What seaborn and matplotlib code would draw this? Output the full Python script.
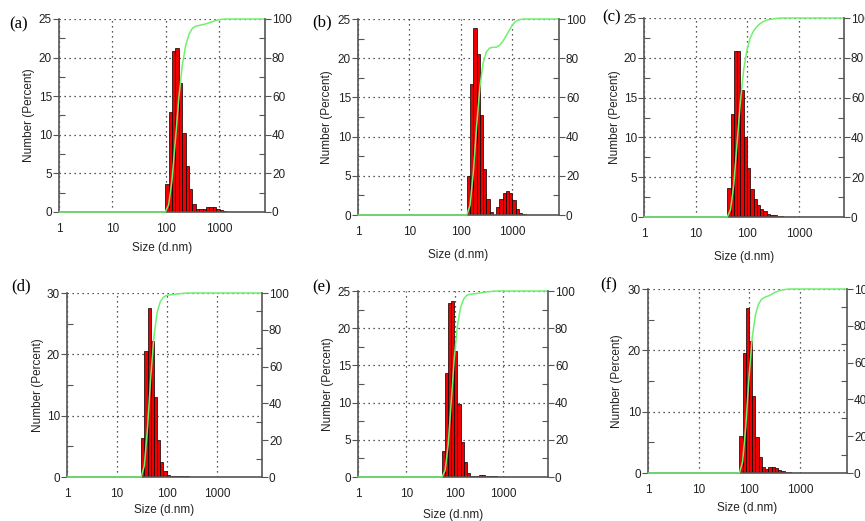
import numpy as np
import pandas as pd
import matplotlib
matplotlib.use('Agg')
import matplotlib.pyplot as plt
import seaborn as sns
from matplotlib.ticker import FixedLocator, MultipleLocator, NullFormatter

# Malvern size classes (d.nm)
size_classes = [0.4, 0.4632, 0.5365, 0.6213, 0.7195, 0.8332, 0.9649, 1.117, 1.294, 1.499,
                1.736, 2.01, 2.328, 2.696, 3.122, 3.615, 4.187, 4.849, 5.615, 6.503,
                7.531, 8.721, 10.1, 11.7, 13.54, 15.69, 18.17, 21.04, 24.36, 28.21,
                32.67, 37.84, 43.82, 50.75, 58.77, 68.06, 78.82, 91.28, 105.7, 122.4,
                141.8, 164.2, 190.1, 220.2, 255.0, 295.3, 342.0, 396.1, 458.7, 531.2,
                615.1, 712.4, 825.0, 955.4, 1106, 1281, 1484, 1718, 1990, 2305,
                2669, 3091, 3580, 4145, 4801, 5560, 6439, 7456, 8635, 10000]

panel_labels = ['(a)', '(b)', '(c)', '(d)', '(e)', '(f)']

a_start = 105.7
a_number = [3.6, 13.0, 20.8, 21.3, 16.7, 10.2, 6.0, 3.0, 1.1, 0.4, 0.4, 0.4, 0.6, 0.6, 0.6, 0.4, 0.2, 0.1]
b_start = 141.8
b_number = [5.0, 16.7, 23.8, 20.5, 12.8, 5.9, 2.0, 0.4, 0.0, 1.0, 2.0, 2.8, 3.0, 2.8, 1.9, 0.8, 0.3, 0.1]
c_start = 43.82
c_number = [3.6, 13.0, 20.8, 20.8, 16.0, 10.0, 6.1, 3.5, 2.2, 1.5, 1.0, 0.7, 0.4, 0.3, 0.2, 0.1, 0.1]
d_start = 32.67
d_number = [6.3, 20.6, 27.5, 22.1, 13.1, 6.0, 2.4, 1.0, 0.3, 0.2, 0.2, 0.2, 0.2, 0.1, 0.1]
e_start = 58.77
e_number = [3.5, 14.0, 23.4, 23.6, 17.0, 9.8, 4.7, 2.0, 0.6, 0.2, 0.2, 0.2, 0.3, 0.3, 0.2, 0.2, 0.1, 0.1]
f_start = 68.06
f_number = [6.0, 19.6, 26.9, 21.6, 12.6, 5.9, 2.6, 1.0, 0.6, 0.9, 1.0, 0.8, 0.5, 0.3, 0.2, 0.1]

y_max = [25, 25, 25, 30, 25, 30]
x_max = [7300, 8300, 7400, 7900, 8500, 8400]

# axes boxes in pixels: left, right, top, bottom
boxes = [(59, 265, 19, 212), (358, 559, 19, 215), (644, 844, 18, 217),
         (67, 262, 293, 477), (358, 548, 291, 477), (648, 847, 289, 473)]
label_pos = [(19, 24), (322, 22), (612, 17), (21, 286), (322, 287), (609, 285)]
ylab_x = [29, 327, 615, 38, 328, 617]
xlab_y = [248, 255, 257, 510, 515, 508]

W, H = 865, 521
sns.set_theme(style='white')
plt.rcParams['font.family'] = ['Liberation Sans', 'DejaVu Sans']
plt.rcParams['font.size'] = 8.5

fig = plt.figure(figsize=(W / 100, H / 100), dpi=100)

starts = [a_start, b_start, c_start, d_start, e_start, f_start]
numbers = [a_number, b_number, c_number, d_number, e_number, f_number]
spine_c = '#555555'
ratio = size_classes[1] / size_classes[0]

for i in range(6):
    l, r, t, b = boxes[i]
    ax = fig.add_axes([l / W, 1 - b / H, (r - l) / W, (b - t) / H])
    vals = np.array(numbers[i])
    i0 = size_classes.index(starts[i])
    centers = np.array(size_classes[i0:i0 + len(vals)])
    edges = np.append(centers / np.sqrt(ratio), centers[-1] * np.sqrt(ratio))
    df = pd.DataFrame({'size': centers, 'number': vals})

    ax.set_axisbelow(True)
    ax.grid(True, which='major', ls=(0, (1, 3)), color='#222222', lw=0.9)
    sns.histplot(data=df, x='size', weights='number', bins=list(np.log10(edges)),
                 log_scale=True, ax=ax, color='#ee0000', edgecolor='black',
                 linewidth=0.5, alpha=1)
    ax.set_xlim(1, x_max[i])
    ax.set_ylim(0, y_max[i])
    ax.set_xlabel('')
    ax.set_ylabel('')

    ax.xaxis.set_major_locator(FixedLocator([1, 10, 100, 1000]))
    ax.set_xticklabels(['1', '10', '100', '1000'])
    minors = [m * 10 ** k for k in range(4) for m in range(2, 10) if m * 10 ** k < x_max[i]]
    ax.xaxis.set_minor_locator(FixedLocator(minors))
    ax.xaxis.set_minor_formatter(NullFormatter())
    step = y_max[i] / 5 if y_max[i] == 25 else 10
    ax.yaxis.set_major_locator(MultipleLocator(step))
    ax.yaxis.set_minor_locator(MultipleLocator(step / 2))
    ax.tick_params(axis='x', which='both', direction='inout', length=6, width=0.8,
                   color=spine_c, pad=5, labelsize=8.5, labelcolor='#222222')
    ax.tick_params(axis='y', which='major', direction='out', length=4, width=0.8,
                   color=spine_c, pad=1, labelsize=8.5, labelcolor='#222222')
    ax.tick_params(axis='y', which='minor', direction='in', length=4, width=0.8, color=spine_c)
    for s in ['top', 'right']:
        ax.spines[s].set_visible(False)
    for s in ['left', 'bottom']:
        ax.spines[s].set_color(spine_c)
        ax.spines[s].set_linewidth(1.2)

    cum = np.cumsum(vals) / vals.sum() * 100
    cx = np.concatenate([[1, edges[0]], edges[1:], [x_max[i]]])
    cy = np.concatenate([[0, 0], cum, [100]])
    ax2 = ax.twinx()
    sns.lineplot(x=cx, y=cy, ax=ax2, color='#70f070', lw=1.1, clip_on=False)
    ax2.set_ylim(0, 100)
    ax2.set_ylabel('')
    ax2.yaxis.set_major_locator(MultipleLocator(20))
    ax2.yaxis.set_minor_locator(MultipleLocator(10))
    ax2.tick_params(axis='y', which='major', direction='out', length=4, width=0.8,
                    color=spine_c, pad=1, labelsize=8.5, labelcolor='#222222')
    ax2.tick_params(axis='y', which='minor', direction='in', length=4, width=0.8, color=spine_c)
    for s in ['top', 'left', 'bottom']:
        ax2.spines[s].set_visible(False)
    ax2.spines['right'].set_color(spine_c)
    ax2.spines['right'].set_linewidth(1.2)

    fig.text(label_pos[i][0] / W, 1 - label_pos[i][1] / H, panel_labels[i],
             family='Liberation Serif', fontsize=12, ha='center', va='center', color='black')
    fig.text(ylab_x[i] / W, 1 - (t + b) / 2 / H, 'Number (Percent)', rotation=90,
             ha='center', va='center', fontsize=8.5, color='#222222')
    fig.text((l + r) / 2 / W, 1 - xlab_y[i] / H, 'Size (d.nm)',
             ha='center', va='center', fontsize=8.5, color='#222222')

fig.savefig('out.png', dpi=100)
